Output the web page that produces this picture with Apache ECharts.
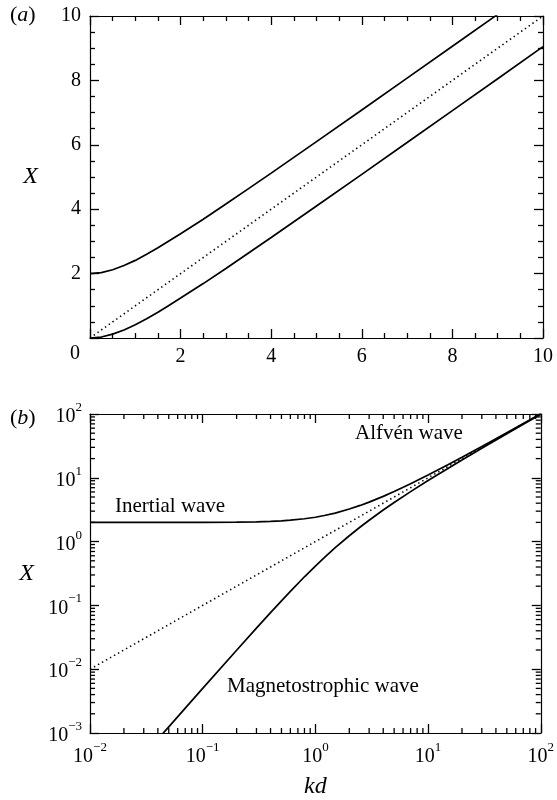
<!DOCTYPE html>
<html>
<head>
<meta charset="utf-8">
<script src="https://cdn.jsdelivr.net/npm/echarts@6/dist/echarts.min.js"></script>
<style>
  html, body { margin: 0; padding: 0; background: #fff; }
  #chart { width: 557px; height: 800px; }
</style>
</head>
<body>
<div id="chart"></div>
<script>
// panel (a): linear axes
const kA = [0, 0.25, 0.5, 0.75, 1, 1.25, 1.5, 1.75, 2, 2.5, 3, 3.5, 4, 5, 6, 7, 8, 9, 10];
const upperA = [2, 2.03, 2.12, 2.25, 2.41, 2.60, 2.80, 3.02, 3.24, 3.69, 4.16, 4.64, 5.12, 6.10, 7.08, 8.07, 9.06, 10.05, 11.05];
const lowerA = [0, 0.03, 0.12, 0.25, 0.41, 0.60, 0.80, 1.02, 1.24, 1.69, 2.16, 2.64, 3.12, 4.10, 5.08, 6.07, 7.06, 8.05, 9.05];
const diagA = [[0, 0], [10, 10]];

// panel (b): log-log axes
const kB = [0.01, 0.02, 0.05, 0.1, 0.2, 0.3, 0.4, 0.5, 0.6, 0.8, 1, 1.2, 1.5, 2, 2.5, 3, 4, 5, 7, 10, 15, 20, 30, 50, 70, 100];
const inertialB = [2, 2, 2.001, 2.005, 2.02, 2.04, 2.077, 2.12, 2.166, 2.281, 2.41, 2.562, 2.80, 3.24, 3.69, 4.16, 5.12, 6.10, 8.07, 11.05, 16.03, 21.02, 31.02, 51.01, 71.01, 101];
const magnetoB = [0.00005, 0.0002, 0.00125, 0.005, 0.0198, 0.044, 0.077, 0.118, 0.166, 0.281, 0.414, 0.562, 0.803, 1.236, 1.693, 2.162, 3.123, 4.099, 6.071, 9.05, 14.03, 19.02, 29.02, 49.01, 69.01, 99];
const diagB = [[0.01, 0.01], [100, 100]];

const xMinB = 0.01, xMaxB = 100, yMinB = 0.001, yMaxB = 100;

// minor tick positions for the log axes (2..9 in every decade)
const minorTicks = (lo, hi) => {
    const out = [];
    for (let d = lo; d < hi; d *= 10) {
        for (let m = 2; m <= 9; m++) out.push(+(d * m).toPrecision(3));
    }
    return out;
};
const minorXB = minorTicks(xMinB, xMaxB);
const minorYB = minorTicks(yMinB, yMaxB);

const font = '"Liberation Serif", "Times New Roman", serif';
const black = '#000';

const linAxis = (pos, showLabel) => ({
    type: 'value',
    position: pos,
    min: 0, max: 10, interval: 2,
    axisLine: { show: true, onZero: false, lineStyle: { color: black, width: 1.2 } },
    axisTick: { show: true, inside: true, length: 9, lineStyle: { color: black, width: 1.3 } },
    minorTick: { show: true, splitNumber: 4, length: 5, lineStyle: { color: black, width: 1.3 } },
    splitLine: { show: false },
    axisLabel: {
        show: showLabel, color: black, fontFamily: font, fontSize: 20, margin: 9,
        formatter: v => (v === 0 ? '' : String(v))
    }
});

const logLabel = v => {
    const e = Math.round(Math.log10(v));
    return '{b|10}{s|' + (e < 0 ? '\u2212' + (-e) : e) + '}';
};

const logAxis = (pos, min, max, showLabel) => ({
    type: 'log',
    logBase: 10,
    position: pos,
    min, max,
    axisLine: { show: true, onZero: false, lineStyle: { color: black, width: 1.2 } },
    axisTick: { show: true, inside: true, length: 9, lineStyle: { color: black, width: 1.3 } },
    splitLine: { show: false },
    axisLabel: {
        show: showLabel, color: black, fontFamily: font, margin: 8,
        formatter: logLabel,
        rich: {
            b: { fontSize: 20, fontFamily: font, color: black, lineHeight: 26, verticalAlign: 'bottom' },
            s: { fontSize: 13, fontFamily: font, color: black, lineHeight: 15, verticalAlign: 'top' }
        }
    }
});

const axisName = (name, gap) => ({
    name, nameLocation: 'middle', nameGap: gap, nameRotate: 0,
    nameTextStyle: { fontFamily: font, fontSize: 24, fontStyle: 'italic', color: black }
});

// log minor ticks on all four sides, placed through the axes' own scales
const tickSeries = (values, dir) => ({
    type: 'custom',
    xAxisIndex: 2, yAxisIndex: 2,
    silent: true,
    data: values.map(v => [v]),
    renderItem: (params, api) => {
        const v = api.value(0);
        const st = { stroke: black, lineWidth: 1.3 };
        let a, b;
        if (dir === 'x') {
            a = api.coord([v, yMinB]); b = api.coord([v, yMaxB]);
            return { type: 'group', children: [
                { type: 'line', shape: { x1: a[0], y1: a[1], x2: a[0], y2: a[1] - 5 }, style: st },
                { type: 'line', shape: { x1: b[0], y1: b[1], x2: b[0], y2: b[1] + 5 }, style: st }
            ] };
        }
        a = api.coord([xMinB, v]); b = api.coord([xMaxB, v]);
        return { type: 'group', children: [
            { type: 'line', shape: { x1: a[0], y1: a[1], x2: a[0] + 5, y2: a[1] }, style: st },
            { type: 'line', shape: { x1: b[0], y1: b[1], x2: b[0] - 5, y2: b[1] }, style: st }
        ] };
    }
});

const solid = { color: black, width: 1.7 };
const dotted = { color: black, width: 1.6, type: [1.4, 3.2] };

const textStyle = (x, y, text, size) => ({
    type: 'text', left: x, top: y,
    style: { text, fontFamily: font, fontSize: size || 21, fill: black }
});

const panelLabel = (x, y, letter) => ({
    type: 'text', left: x, top: y,
    style: {
        text: '{p|(}{i|' + letter + '}{p|)}',
        rich: {
            p: { fontFamily: font, fontSize: 22, fill: black },
            i: { fontFamily: font, fontSize: 22, fontStyle: 'italic', fill: black }
        }
    }
});

const option = {
    animation: false,
    backgroundColor: '#fff',
    grid: [
        { left: 90, top: 16, width: 453, height: 322 },
        { left: 90, top: 414, width: 453, height: 322 }
    ],
    xAxis: [
        Object.assign(linAxis('bottom', true), { gridIndex: 0 }),
        Object.assign(linAxis('top', false), { gridIndex: 0 }),
        Object.assign(logAxis('bottom', xMinB, xMaxB, true), { gridIndex: 1 }, axisName('kd', 42)),
        Object.assign(logAxis('top', xMinB, xMaxB, false), { gridIndex: 1 })
    ],
    yAxis: [
        Object.assign(linAxis('left', true), { gridIndex: 0 }, axisName('X', 52)),
        Object.assign(linAxis('right', false), { gridIndex: 0 }),
        Object.assign(logAxis('left', yMinB, yMaxB, true), { gridIndex: 1 }, axisName('X', 56)),
        Object.assign(logAxis('right', yMinB, yMaxB, false), { gridIndex: 1 })
    ],
    series: [
        { type: 'line', xAxisIndex: 0, yAxisIndex: 0, data: kA.map((k, i) => [k, upperA[i]]), showSymbol: false, lineStyle: solid },
        { type: 'line', xAxisIndex: 0, yAxisIndex: 0, data: kA.map((k, i) => [k, lowerA[i]]), showSymbol: false, lineStyle: solid },
        { type: 'line', xAxisIndex: 0, yAxisIndex: 0, data: diagA, showSymbol: false, lineStyle: dotted },
        { type: 'line', xAxisIndex: 2, yAxisIndex: 2, data: kB.map((k, i) => [k, inertialB[i]]), showSymbol: false, lineStyle: solid },
        { type: 'line', xAxisIndex: 2, yAxisIndex: 2, data: kB.map((k, i) => [k, magnetoB[i]]), showSymbol: false, lineStyle: solid },
        { type: 'line', xAxisIndex: 2, yAxisIndex: 2, data: diagB, showSymbol: false, lineStyle: dotted },
        tickSeries(minorXB, 'x'),
        tickSeries(minorYB, 'y')
    ],
    graphic: [
        panelLabel(10, 4, 'a'),
        panelLabel(10, 407, 'b'),
        textStyle(70, 344, '0', 20),
        textStyle(115, 496, 'Inertial wave'),
        textStyle(355, 423, 'Alfvén wave'),
        textStyle(227, 676, 'Magnetostrophic wave')
    ]
};

const myChart = echarts.init(document.querySelector('#chart'), null, { renderer: 'canvas' });
myChart.setOption(option);
</script>
</body>
</html>
